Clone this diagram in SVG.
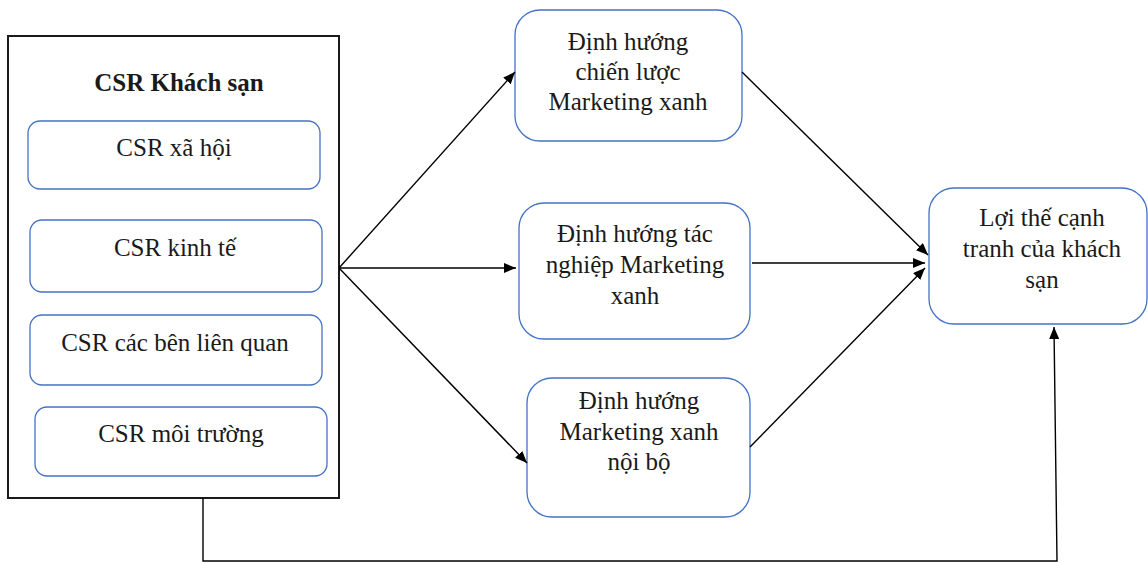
<svg xmlns="http://www.w3.org/2000/svg" width="1148" height="563" viewBox="0 0 1148 563">
<style>
  .box { fill: #ffffff; stroke: #4472C4; stroke-width: 1.3; }
  .outer { fill: #ffffff; stroke: #1a1a1a; stroke-width: 2; }
  text { font-family: "Liberation Serif", "Times New Roman", serif; font-size: 25px; fill: #1a1a1a; text-anchor: middle; }
  .title { font-weight: bold; }
  .conn { fill: none; stroke: #000000; stroke-width: 1.4; }
</style>
<defs>
  <marker id="arrow" viewBox="0 0 12 10" refX="12" refY="5" markerWidth="12" markerHeight="10" markerUnits="userSpaceOnUse" orient="auto">
    <path d="M0,0 L12,5 L0,10 z" fill="#000000"/>
  </marker>
</defs>
<rect width="1148" height="563" fill="#ffffff"/>

<g id="csr-khach-san">
  <rect class="outer" x="8" y="36" width="331" height="462"/>
  <text class="title" x="179" y="91">CSR Khách sạn</text>
</g>
<g id="csr-xa-hoi">
  <rect class="box" x="28" y="121" width="292" height="68" rx="12"/>
  <text x="174" y="156">CSR xã hội</text>
</g>
<g id="csr-kinh-te">
  <rect class="box" x="30" y="220" width="292" height="72" rx="12"/>
  <text x="175" y="256">CSR kinh tế</text>
</g>
<g id="csr-cac-ben">
  <rect class="box" x="30" y="315" width="292" height="70" rx="12"/>
  <text x="175" y="351">CSR các bên liên quan</text>
</g>
<g id="csr-moi-truong">
  <rect class="box" x="35" y="407" width="292" height="69" rx="12"/>
  <text x="181" y="442">CSR môi trường</text>
</g>

<g id="dinh-huong-chien-luoc">
  <rect class="box" x="515" y="10" width="227" height="131" rx="25"/>
  <text x="628" y="50">Định hướng</text>
  <text x="628" y="80">chiến lược</text>
  <text x="628" y="110">Marketing xanh</text>
</g>
<g id="dinh-huong-tac-nghiep">
  <rect class="box" x="519" y="203" width="231" height="136" rx="25"/>
  <text x="635" y="242">Định hướng tác</text>
  <text x="635" y="273">nghiệp Marketing</text>
  <text x="635" y="304">xanh</text>
</g>
<g id="dinh-huong-noi-bo">
  <rect class="box" x="527" y="378" width="223" height="139" rx="25"/>
  <text x="639" y="409">Định hướng</text>
  <text x="639" y="440">Marketing xanh</text>
  <text x="639" y="470">nội bộ</text>
</g>
<g id="loi-the-canh-tranh">
  <rect class="box" x="929" y="188" width="218" height="136" rx="25"/>
  <text x="1042" y="226">Lợi thế cạnh</text>
  <text x="1042" y="257">tranh của khách</text>
  <text x="1042" y="288">sạn</text>
</g>

<g id="connectors">
  <line class="conn" x1="339" y1="268" x2="515" y2="72" marker-end="url(#arrow)"/>
  <line class="conn" x1="339" y1="268" x2="516" y2="268" marker-end="url(#arrow)"/>
  <line class="conn" x1="339" y1="268" x2="527" y2="463" marker-end="url(#arrow)"/>
  <line class="conn" x1="742" y1="72" x2="928" y2="255" marker-end="url(#arrow)"/>
  <line class="conn" x1="752" y1="263" x2="925" y2="263" marker-end="url(#arrow)"/>
  <line class="conn" x1="750" y1="447" x2="925" y2="268" marker-end="url(#arrow)"/>
  <polyline class="conn" points="203,498 203,561 1057,561 1054,327" marker-end="url(#arrow)"/>
</g>
</svg>
